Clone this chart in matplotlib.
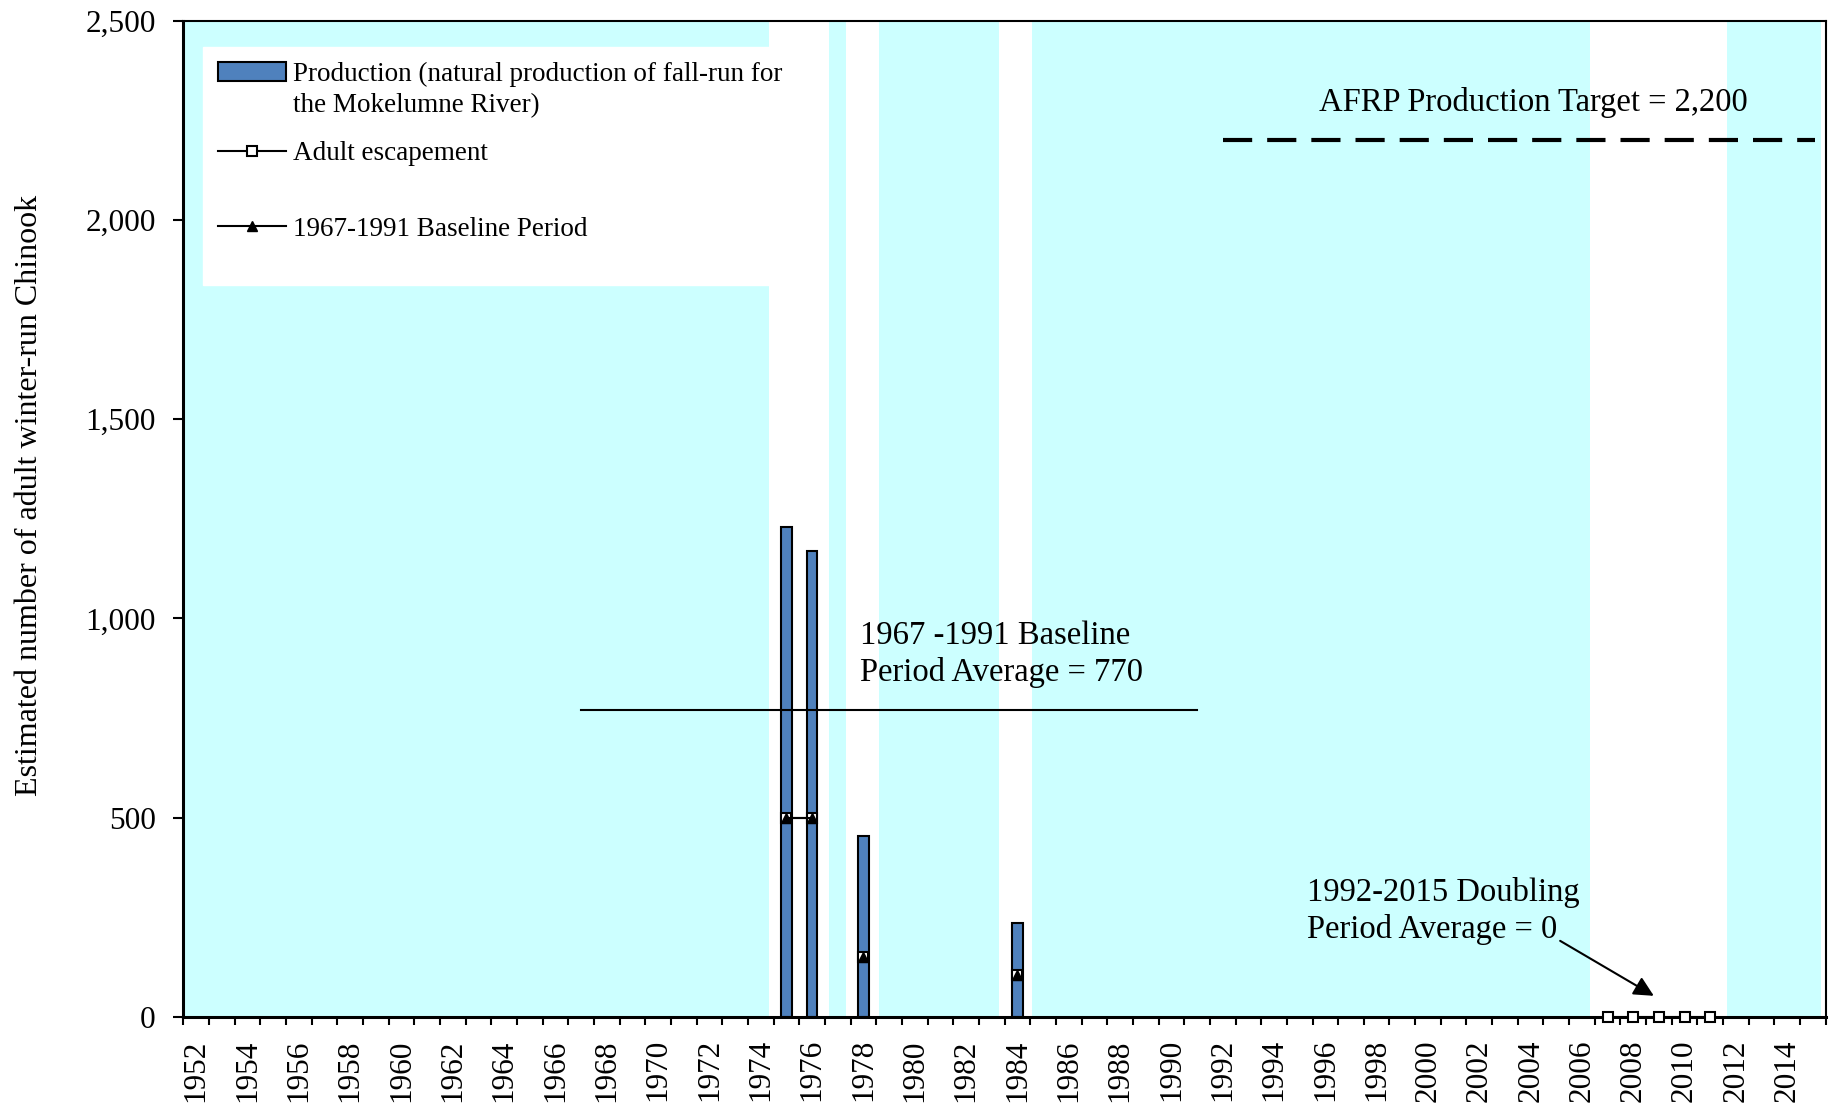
import numpy as np
import matplotlib
matplotlib.use("Agg")
import matplotlib.pyplot as plt
from matplotlib.patches import Patch
from matplotlib.lines import Line2D
from matplotlib.ticker import FuncFormatter

plt.rcParams['font.family'] = ['Liberation Serif', 'DejaVu Serif']

# ---------------- data ----------------
years = list(range(1952, 2016))
label_years = list(range(1952, 2016, 2))

prod_years = [1975, 1976, 1978, 1984]
production = [1230, 1170, 455, 235]

esc_years = [1975, 1976, 1978, 1984, 2007, 2008, 2009, 2010, 2011]
escapement = [500, 500, 150, 105, 0, 0, 0, 0, 0]

base_years = [1975, 1976, 1978, 1984]
base_values = [500, 500, 150, 105]

baseline_avg = 770
baseline_span = [1967, 1991]
target = 2200
target_span = [1992, 2015.1]

# shaded (cyan) periods
band_starts = [1951.57, 1976.66, 1978.61, 1984.57, 2011.65]
band_ends = [1974.33, 1977.32, 1983.29, 2006.32, 2015.32]

yticks = [0, 500, 1000, 1500, 2000, 2500]

# ---------------- figure ----------------
fig = plt.figure(figsize=(18.39, 11.09), dpi=100)
ax = fig.add_axes([0.0997, 0.0830, 0.8931, 0.8983])
ax.set_xlim(1951.5, 2015.5)
ax.set_ylim(0, 2500)

for s, e in zip(band_starts, band_ends):
    ax.axvspan(s, e, color='#CCFFFF', lw=0, zorder=0)

ax.bar(prod_years, production, width=0.4, color='#4F81BD',
       edgecolor='black', linewidth=1.5, zorder=2)

esc_full = np.full(len(years), np.nan)
for y, v in zip(esc_years, escapement):
    esc_full[years.index(y)] = v
base_full = np.full(len(years), np.nan)
for y, v in zip(base_years, base_values):
    base_full[years.index(y)] = v

ax.plot(years, esc_full, color='black', lw=1.5, marker='s', ms=7.8,
        mfc='white', mec='black', mew=1.5, zorder=4, clip_on=False)
ax.plot(years, base_full, color='black', lw=1.5, marker='^', ms=6.5,
        mfc='black', mec='black', zorder=5)

ax.plot(baseline_span, [baseline_avg, baseline_avg], color='black', lw=1.5, zorder=3)
ax.plot(target_span, [target, target], color='black', lw=3,
        dashes=(7, 3.6), dash_capstyle='butt', zorder=3)

# annotations
ax.text(2004.1, 2295, 'AFRP Production Target = 2,200', fontsize=23.5,
        ha='center', va='center', zorder=6)
ax.text(1977.86, 910, '1967 -1991 Baseline\nPeriod Average = 770', fontsize=23.5,
        ha='left', va='center', linespacing=1.25, zorder=6)
ax.annotate('', xy=(2008.8, 53), xytext=(2005.15, 191),
            arrowprops=dict(arrowstyle='-|>', color='black', lw=1.5,
                            mutation_scale=30, shrinkA=0, shrinkB=0), zorder=6)
ax.text(1995.28, 266, '1992-2015 Doubling\nPeriod Average = 0', fontsize=23.5,
        ha='left', va='center', linespacing=1.25, zorder=6)

# axes styling
for side in ['left', 'bottom']:
    ax.spines[side].set_linewidth(2.2)
for side in ['top', 'right']:
    ax.spines[side].set_linewidth(1.5)

ax.set_yticks(yticks)
ax.yaxis.set_major_formatter(FuncFormatter(lambda v, p: f'{v:,.0f}'))
ax.tick_params(axis='y', direction='out', length=7, width=1.5, pad=13, labelsize=22.5)

boundaries = [y - 0.5 for y in years] + [years[-1] + 0.5]
ax.set_xticks(boundaries)
ax.set_xticklabels([])
ax.set_xticks(label_years, minor=True)
ax.set_xticklabels([str(y) for y in label_years], minor=True, rotation=90)
ax.tick_params(axis='x', which='major', direction='out', length=6, width=1.5)
ax.tick_params(axis='x', which='minor', length=0, pad=16, labelsize=22.5)

ax.set_ylabel('Estimated number of adult winter-run Chinook', fontsize=23)
ax.yaxis.set_label_coords(-0.0848, 0.5233)

# legend (blank entries used only as spacers)
blank = Line2D([], [], color='none', lw=0)
handles = [
    Patch(facecolor='#4F81BD', edgecolor='black', linewidth=1.5),
    blank,
    Line2D([], [], color='black', lw=1.5, marker='s', ms=7.8, mfc='white', mec='black', mew=1.5),
    blank,
    Line2D([], [], color='black', lw=1.5, marker='^', ms=6.5, mfc='black', mec='black'),
    blank,
]
labels = ['Production (natural production of fall-run for',
          'the Mokelumne River)\n',
          'Adult escapement', ' ', '1967-1991 Baseline Period', ' ']
leg = ax.legend(handles, labels, loc='upper left', bbox_to_anchor=(0.012, 0.9736),
                borderaxespad=0, fontsize=19.5, frameon=True, fancybox=False,
                framealpha=1, edgecolor='white', facecolor='white',
                handlelength=2.5, handletextpad=0.27, borderpad=0.55,
                labelspacing=0.22)
leg.set_zorder(7)
texts = leg.get_texts()
texts[1].set_linespacing(0.6)
texts[3].set_fontsize(30)
texts[5].set_fontsize(11)

fig.savefig('out.png', dpi=100)
